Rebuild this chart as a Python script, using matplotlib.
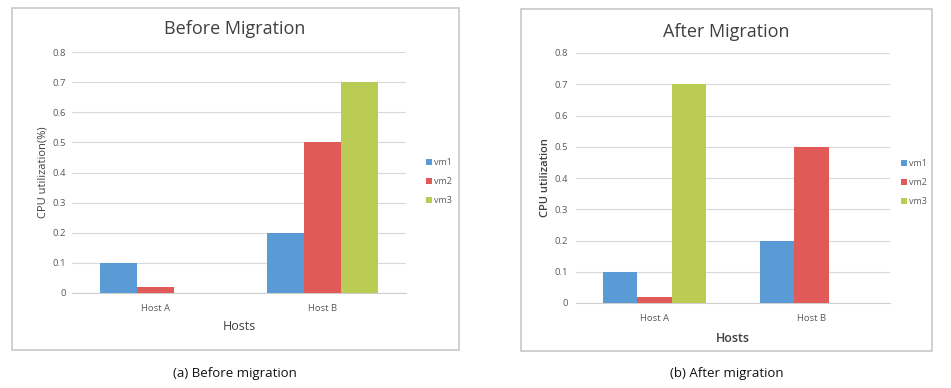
import numpy as np
import matplotlib.pyplot as plt
from matplotlib.patches import Rectangle

# data
hosts = ['Host A', 'Host B']
vms = ['vm1', 'vm2', 'vm3']
before_vm1 = [0.10, 0.20]
before_vm2 = [0.02, 0.50]
before_vm3 = [0.00, 0.70]
after_vm1 = [0.10, 0.20]
after_vm2 = [0.02, 0.50]
after_vm3 = [0.70, 0.00]
yticks = [0, 0.1, 0.2, 0.3, 0.4, 0.5, 0.6, 0.7, 0.8]

colors = ['#5b9bd5', '#e05a57', '#bacc54']
W, H = 951, 388

plt.rcParams['font.family'] = ['Open Sans', 'DejaVu Sans']
fig = plt.figure(figsize=(W / 100, H / 100), dpi=100)


def px(x0, y0, x1, y1):
    # pixel box -> figure fraction [left, bottom, width, height]
    return [x0 / W, 1 - y1 / H, (x1 - x0) / W, (y1 - y0) / H]


def panel(box, frame, series, title, ylabel, ylab_x, title_xy, legend_xy, hosts_y,
          caption, cap_x, ypad, lab_weight):
    # frame around the panel
    fx0, fy0, fx1, fy1 = frame
    fig.patches.append(Rectangle((fx0 / W, 1 - fy1 / H), (fx1 - fx0) / W, (fy1 - fy0) / H,
                                 transform=fig.transFigure, fill=False,
                                 edgecolor='#c8c8c8', linewidth=1.2))
    ax = fig.add_axes(px(*box))
    x = np.arange(len(hosts))
    bw = 0.22
    handles = []
    for i, vals in enumerate(series):
        h = ax.bar(x + (i - 1) * bw, vals, bw, color=colors[i], label=vms[i], zorder=3)
        handles.append(h)
    ax.set_xlim(-0.5, 1.5)
    ax.set_ylim(0, 0.8)
    ax.set_yticks(yticks)
    ax.set_yticklabels(['0' if v == 0 else f'{v:g}' for v in yticks])
    ax.set_xticks(x)
    ax.set_xticklabels(hosts)
    ax.grid(axis='y', color='#dadada', linewidth=0.8, zorder=0)
    for s in ['top', 'right', 'left']:
        ax.spines[s].set_visible(False)
    ax.spines['bottom'].set_color('#cfcfcf')
    ax.tick_params(axis='y', length=0, labelsize=6.8, labelcolor='#595959', pad=ypad)
    ax.tick_params(axis='x', length=0, labelsize=6.8, labelcolor='#595959', pad=8)
    fig.text(title_xy[0] / W, 1 - title_xy[1] / H, title, ha='center', va='center',
             fontsize=13, color='#404040')
    fig.text(ylab_x / W, 1 - (box[1] + box[3]) / 2 / H, ylabel, rotation=90,
             ha='center', va='center', fontsize=8, color='#404040', weight=lab_weight)
    fig.text((box[0] + box[2]) / 2 / W, 1 - hosts_y / H, 'Hosts', ha='center', va='center',
             fontsize=9, color='#404040', weight=lab_weight)
    fig.text(cap_x / W, 1 - 374 / H, caption, ha='center', va='center',
             fontsize=9.5, color='#111111')
    ax.legend(handles=handles, loc='upper left',
              bbox_to_anchor=(legend_xy[0] / W, 1 - legend_xy[1] / H),
              bbox_transform=fig.transFigure, frameon=False, fontsize=6.5,
              handlelength=0.6, handleheight=0.6, handletextpad=0.3,
              labelspacing=1.1, labelcolor='#595959')
    return ax


panel((72, 52, 406, 293), (12, 8, 459, 350),
      [before_vm1, before_vm2, before_vm3],
      'Before Migration', 'CPU utilization(%)', 43, (235, 29), (418, 150), 327,
      '(a) Before migration', 235, 4.5, 'normal')

panel((576, 53, 890, 303), (521, 9, 932, 351),
      [after_vm1, after_vm2, after_vm3],
      'After Migration', 'CPU utilization', 545, (726, 32), (893, 151), 338,
      '(b) After migration', 727, 6, 'semibold')

fig.savefig('out.png', dpi=100)
